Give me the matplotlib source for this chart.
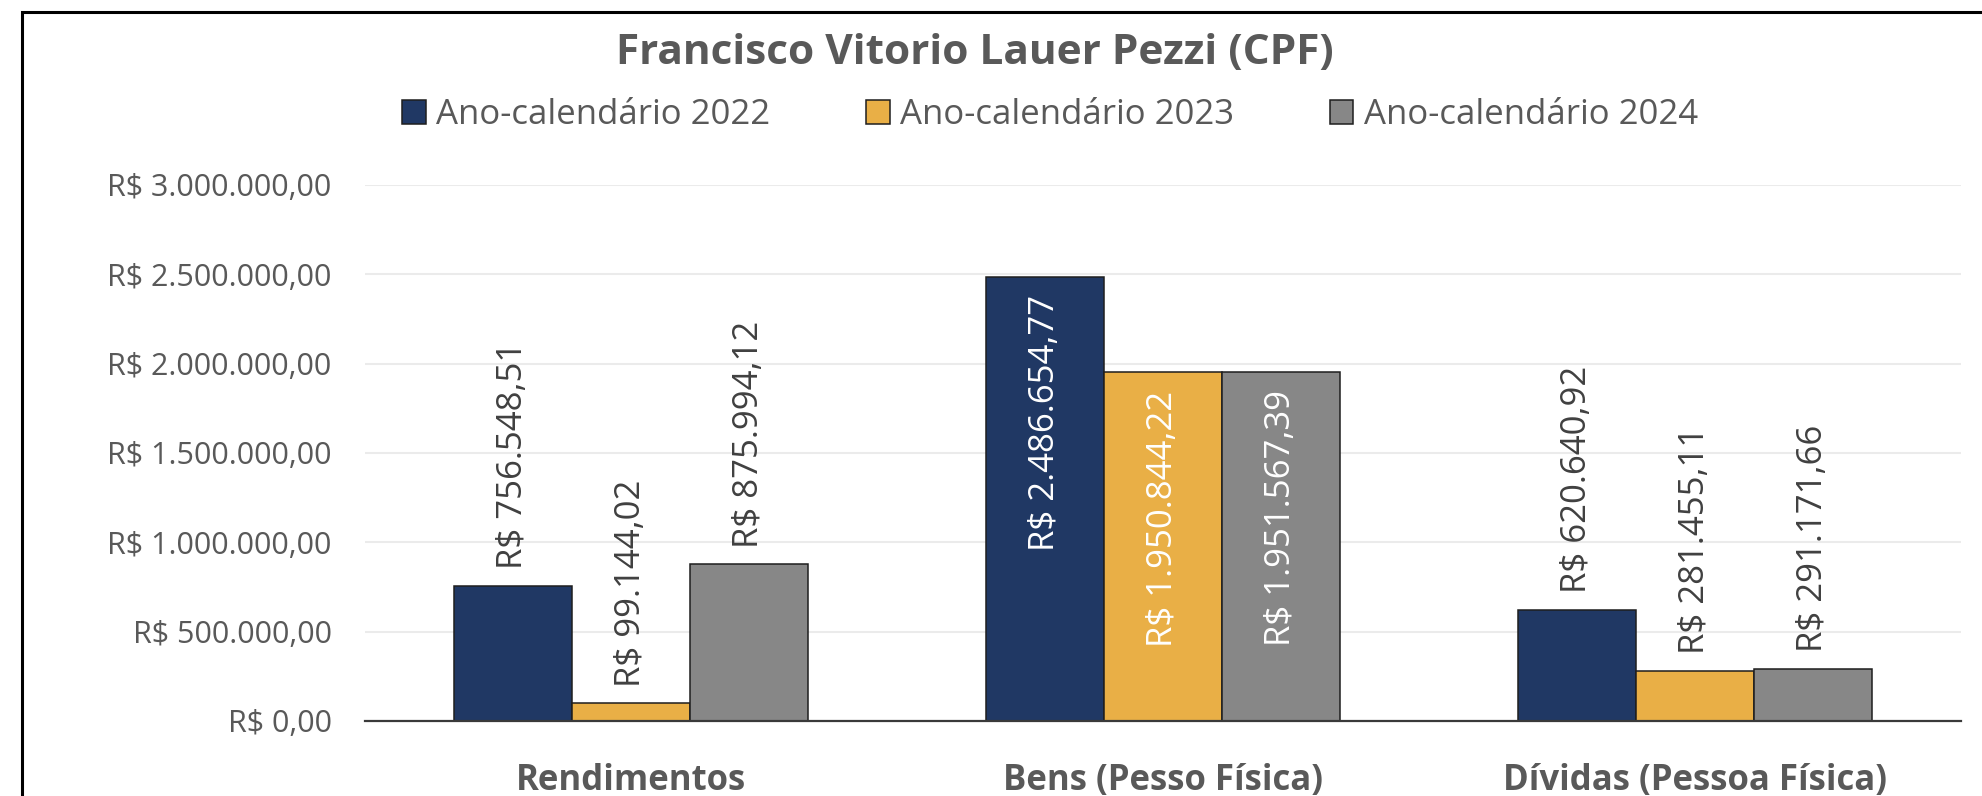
import matplotlib
matplotlib.use('Agg')
import matplotlib.pyplot as plt
import numpy as np
from matplotlib.patches import Rectangle, Patch
from matplotlib.ticker import FuncFormatter, MultipleLocator

plt.rcParams['font.family'] = ['Open Sans', 'DejaVu Sans']

TITLE = "Francisco Vitorio Lauer Pezzi (CPF)"
categories = ["Rendimentos", "Bens (Pesso Física)", "Dívidas (Pessoa Física)"]
series_names = ["Ano-calendário 2022", "Ano-calendário 2023", "Ano-calendário 2024"]
values_2022 = [756548.51, 2486654.77, 620640.92]
values_2023 = [99144.02, 1950844.22, 281455.11]
values_2024 = [875994.12, 1951567.39, 291171.66]
label_inside = [False, True, False]

COLORS = ['#203864', '#E9AF46', '#878787']
EDGE = '#1E1E1E'
TEXT_GRAY = '#595959'
LABEL_DARK = '#404040'

W, H = 1982, 796


def brl(v, pos=None):
    '''Format a value as Brazilian reais'''
    s = f"{v:,.2f}".replace(',', '_').replace('.', ',').replace('_', '.')
    return "R$ " + s


fig = plt.figure(figsize=(W / 100, H / 100), dpi=100)
ax = fig.add_axes([365 / W, 1 - 721 / H, (1961 - 365) / W, (721 - 185) / H])

# chart frame, cut off on the right and bottom like the screenshot
fig.patches.append(Rectangle((22 / W, -0.1), 1.2, 1 - 12 / H + 0.1,
                             transform=fig.transFigure, fill=False,
                             ec='black', lw=2.2, zorder=10))

x = np.arange(len(categories))
width = 2 / 9
all_series = [values_2022, values_2023, values_2024]
for i, (vals, name, color) in enumerate(zip(all_series, series_names, COLORS)):
    xs = x + (i - 1) * width
    ax.bar(xs, vals, width, color=color, edgecolor=EDGE, linewidth=1.1,
           label=name, zorder=3)
    for xi, v, inside in zip(xs, vals, label_inside):
        if inside:
            ax.annotate(brl(v), (xi, v), xytext=(0, -13),
                        textcoords='offset points', rotation=90,
                        ha='center', va='top', fontsize=25, color='white',
                        zorder=4)
        else:
            ax.annotate(brl(v), (xi, v), xytext=(0, 12),
                        textcoords='offset points', rotation=90,
                        ha='center', va='bottom', fontsize=25,
                        color=LABEL_DARK, zorder=4)

ax.set_xlim(-0.5, len(categories) - 0.5)
ax.set_ylim(0, 3000000)
ax.yaxis.set_major_locator(MultipleLocator(500000))
ax.yaxis.set_major_formatter(FuncFormatter(brl))
ax.set_xticks(x)
ax.set_xticklabels(categories, fontsize=25, fontweight='bold', color=TEXT_GRAY)
ax.tick_params(axis='x', length=0, pad=30)
ax.tick_params(axis='y', length=0, pad=24, labelsize=22, labelcolor=TEXT_GRAY)
ax.grid(axis='y', color='#EBEBEB', lw=1.5, zorder=0)
for side in ['top', 'right', 'left']:
    ax.spines[side].set_visible(False)
ax.spines['bottom'].set_color('#3A3A3A')
ax.spines['bottom'].set_linewidth(1.6)
ax.spines['bottom'].set_zorder(5)

fig.text(975 / W, 1 - 54 / H, TITLE, ha='center', va='center',
         fontsize=30.5, fontweight='bold', color=TEXT_GRAY)

handles = [Patch(facecolor=c, edgecolor=EDGE, linewidth=1.1) for c in COLORS]
fig.legend(handles, series_names, loc='center', ncol=3,
           bbox_to_anchor=(1050 / W, 1 - 115 / H), frameon=False,
           fontsize=25, handlelength=0.69, handleheight=0.69,
           handletextpad=0.29, columnspacing=2.75, borderpad=0,
           labelcolor=TEXT_GRAY)

fig.savefig('out.png', dpi=100, facecolor='white')
